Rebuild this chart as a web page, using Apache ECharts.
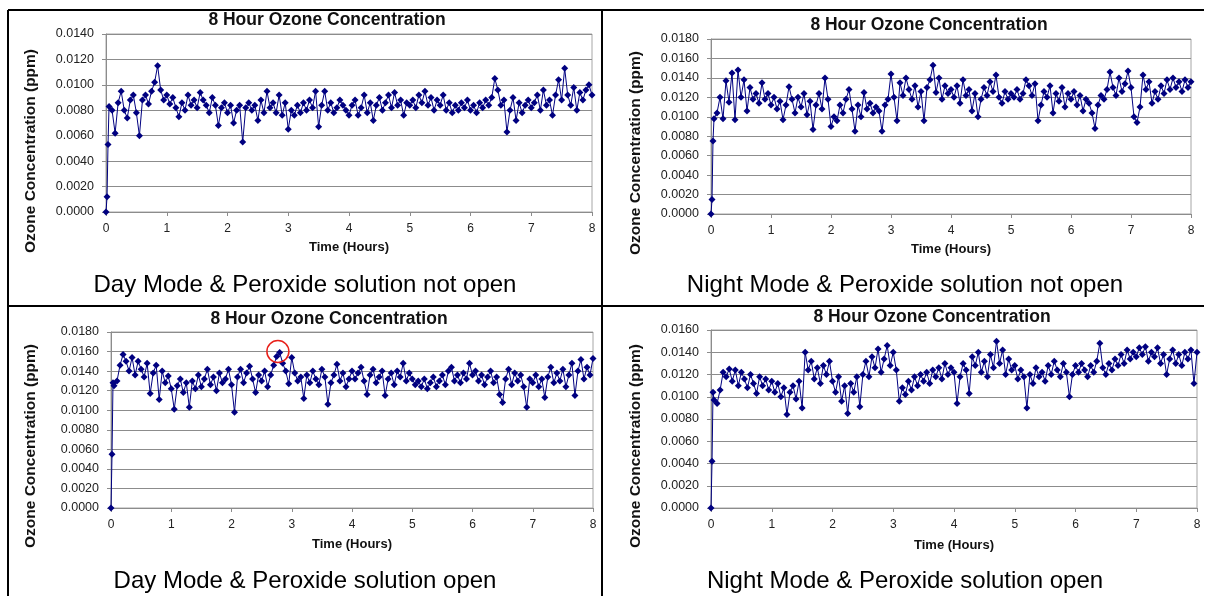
<!DOCTYPE html>
<html><head><meta charset="utf-8">
<script src="https://cdn.jsdelivr.net/npm/echarts@6.0.0/dist/echarts.min.js"></script>
<style>html,body{margin:0;padding:0;background:#fff}#c{width:1206px;height:596px}</style>
</head><body><div id="c"></div><script>
// ---- data (ozone in units of 0.0001 ppm) ----
const startTimes = [0, 0.017, 0.033];
const stepHours = 0.05;          // sampling after the start-up points
const times = startTimes.concat(Array.from({length: 160}, (_, i) => +((i + 1) * stepHours).toFixed(2)));
const xTicks = ['0','1','2','3','4','5','6','7','8'];

const dayClosed = [0, 12, 53,
 83,80,62,86,95,80,74,88,92,78,60,88,92,85,95,102,115,96,88,92,
 85,90,82,75,86,80,92,84,88,82,94,88,84,78,90,84,68,82,86,78,
 84,70,80,84,55,82,86,80,84,72,88,78,95,82,86,78,92,76,86,65,
 80,76,84,78,86,80,88,82,95,67,84,95,80,86,78,82,88,84,80,76,
 84,88,76,82,92,78,86,72,84,90,80,86,92,82,94,84,88,76,86,84,
 88,82,92,86,95,84,90,80,88,84,92,80,86,78,84,80,86,82,88,80,
 84,78,86,82,88,84,90,105,96,84,88,63,80,90,72,86,78,84,88,82,
 86,92,80,96,84,88,76,92,104,88,113,92,84,98,80,94,88,96,100,92];

const nightClosed = [0, 15, 75,
 98,104,120,98,137,115,145,97,148,120,138,106,130,118,124,114,135,118,124,112,
 120,108,116,97,112,131,118,104,120,110,124,102,116,87,112,124,108,140,118,90,
 100,96,112,104,118,128,108,85,112,100,125,108,114,104,110,106,85,112,118,144,
 120,96,135,122,140,128,118,132,110,126,96,130,138,153,125,140,118,132,124,128,
 120,132,114,138,122,128,106,124,100,118,130,122,136,126,143,120,114,126,118,124,
 120,128,118,124,138,132,122,134,96,112,126,120,132,104,124,116,130,110,124,118,
 126,112,122,106,118,114,104,88,112,122,118,128,146,130,122,140,126,134,147,130,
 100,94,110,143,128,136,114,126,118,132,124,138,128,140,130,136,126,138,130,136];

const dayOpen = [0, 55, 128,
 125,130,146,157,150,140,154,136,150,142,134,148,117,138,146,111,140,128,135,122,
 101,125,132,118,128,103,130,122,136,124,132,142,126,134,120,138,128,132,142,126,
 98,134,142,128,138,145,132,118,136,130,140,124,136,146,155,159,148,140,127,154,
 138,130,134,112,136,128,140,132,126,142,134,106,128,136,147,130,138,124,132,140,
 132,138,144,130,116,136,142,128,134,140,115,132,138,126,140,134,148,130,138,132,
 126,130,124,132,122,128,134,124,130,136,126,140,144,130,136,128,138,132,148,136,
 140,130,136,126,134,140,128,134,116,108,132,142,126,138,130,136,124,103,132,128,
 136,124,132,113,134,144,128,138,130,142,124,136,148,115,140,152,132,144,136,153];

const nightOpen = [0, 42, 104,
 97,94,106,122,118,125,114,124,110,122,116,108,120,112,103,118,110,116,106,114,
 104,112,100,108,84,104,110,98,114,90,140,124,132,116,126,112,128,120,132,114,
 104,118,96,110,85,112,104,118,91,120,132,118,136,126,143,122,134,146,128,140,
 124,96,108,102,114,106,118,110,120,114,122,112,124,118,126,116,130,120,126,122,
 94,118,130,124,103,136,128,140,122,132,118,138,126,150,130,142,120,134,124,128,
 116,124,118,90,120,112,126,118,122,114,128,120,132,124,118,130,122,100,120,128,
 122,130,124,118,128,122,132,148,126,120,130,124,134,128,138,130,142,134,140,136,
 144,138,145,132,140,136,144,130,138,120,134,142,130,138,128,140,134,142,112,140];

const yMax = [0.014, 0.018, 0.018, 0.016];
const chartTitle = '8 Hour Ozone Concentration';
const xName = 'Time (Hours)';
const yName = 'Ozone Concentration (ppm)';
const captions = ['Day Mode & Peroxide solution not open', 'Night Mode & Peroxide solution not open',
                  'Day Mode & Peroxide solution open', 'Night Mode & Peroxide solution open'];
const highlight = [2.77, 0.0160];   // circled maximum in "Day Mode & Peroxide solution open"

// ---- layout ----
const FONT = '"Liberation Sans", Arial, Helvetica, sans-serif';
const NAVY = '#000080';
const grids = [
  {left: 106, top: 34, width: 486, height: 178},
  {left: 711, top: 39, width: 480, height: 175},
  {left: 111, top: 332, width: 482, height: 176},
  {left: 711, top: 330, width: 486, height: 178}
];
const xNameGap = [29, 29, 30, 31];
const yNamePos = [[31, 151], [636, 153], [31, 446], [636, 446]];
const titlePos = [[327, 20], [929, 25], [329, 319], [932, 317]];
const captionPos = [[305, 285], [905, 285], [305, 581], [905, 581]];
const seriesVals = [dayClosed, nightClosed, dayOpen, nightOpen];

const toPairs = vals => vals.map((v, i) => [times[i], v / 10000]);

const option = {
  animation: false,
  backgroundColor: '#ffffff',
  grid: grids.map(g => Object.assign({show: true, borderColor: '#a6a6a6', borderWidth: 1, containLabel: false, outerBoundsMode: 'none'}, g)),
  xAxis: grids.map((g, k) => ({
    type: 'value', gridIndex: k, min: 0, max: 8, interval: 1,
    name: xName, nameLocation: 'middle', nameGap: xNameGap[k],
    nameTextStyle: {fontFamily: FONT, fontSize: 13, fontWeight: 'bold', color: '#111'},
    axisLine: {show: true, lineStyle: {color: '#8c8c8c', width: 1}},
    axisTick: {show: true, length: 4, lineStyle: {color: '#8c8c8c'}},
    axisLabel: {fontFamily: FONT, fontSize: 12, color: '#222', margin: 11, formatter: v => xTicks[Math.round(v)]},
    splitLine: {show: false}
  })),
  yAxis: grids.map((g, k) => ({
    type: 'value', gridIndex: k, min: 0, max: yMax[k], interval: 0.002,
    axisLine: {show: true, lineStyle: {color: '#8c8c8c', width: 1}},
    axisTick: {show: true, length: 4, lineStyle: {color: '#8c8c8c'}},
    axisLabel: {fontFamily: FONT, fontSize: 12.5, color: '#222', margin: 12, formatter: v => v.toFixed(4)},
    splitLine: {show: true, lineStyle: {color: '#8c8c8c', width: 1}}
  })),
  series: seriesVals.map((vals, k) => {
    const s = {
      type: 'line', xAxisIndex: k, yAxisIndex: k, data: toPairs(vals),
      symbol: 'diamond', symbolSize: 7, showSymbol: true,
      itemStyle: {color: NAVY}, lineStyle: {color: NAVY, width: 1}
    };
    if (k === 2) {
      s.markPoint = {
        symbol: 'circle', symbolSize: 22, silent: true,
        itemStyle: {color: 'rgba(0,0,0,0)', borderColor: '#e8201a', borderWidth: 1.5},
        label: {show: false},
        data: [{coord: highlight}]
      };
    }
    return s;
  }),
  graphic: [].concat(
    titlePos.map(p => ({type: 'text', x: p[0], y: p[1], style: {text: chartTitle, fill: '#111', font: 'bold 17.5px ' + FONT, align: 'center', verticalAlign: 'middle'}})),
    yNamePos.map(p => ({type: 'text', x: p[0], y: p[1], rotation: Math.PI / 2, style: {text: yName, fill: '#111', font: 'bold 15.5px ' + FONT, align: 'center', verticalAlign: 'middle'}})),
    captionPos.map((p, k) => ({type: 'text', x: p[0], y: p[1], style: {text: captions[k], fill: '#000', font: '24px ' + FONT, align: 'center', verticalAlign: 'middle'}})),
    [
      {type: 'line', shape: {x1: 8, y1: 10, x2: 1204, y2: 10}, style: {stroke: '#000', lineWidth: 2}},
      {type: 'line', shape: {x1: 8, y1: 10, x2: 8, y2: 596}, style: {stroke: '#000', lineWidth: 2}},
      {type: 'line', shape: {x1: 602, y1: 10, x2: 602, y2: 596}, style: {stroke: '#000', lineWidth: 2}},
      {type: 'line', shape: {x1: 8, y1: 306, x2: 1204, y2: 306}, style: {stroke: '#000', lineWidth: 2}}
    ]
  )
};
const chart = echarts.init(document.getElementById('c'), null, {renderer: 'canvas'});
chart.setOption(option);
</script></body></html>
